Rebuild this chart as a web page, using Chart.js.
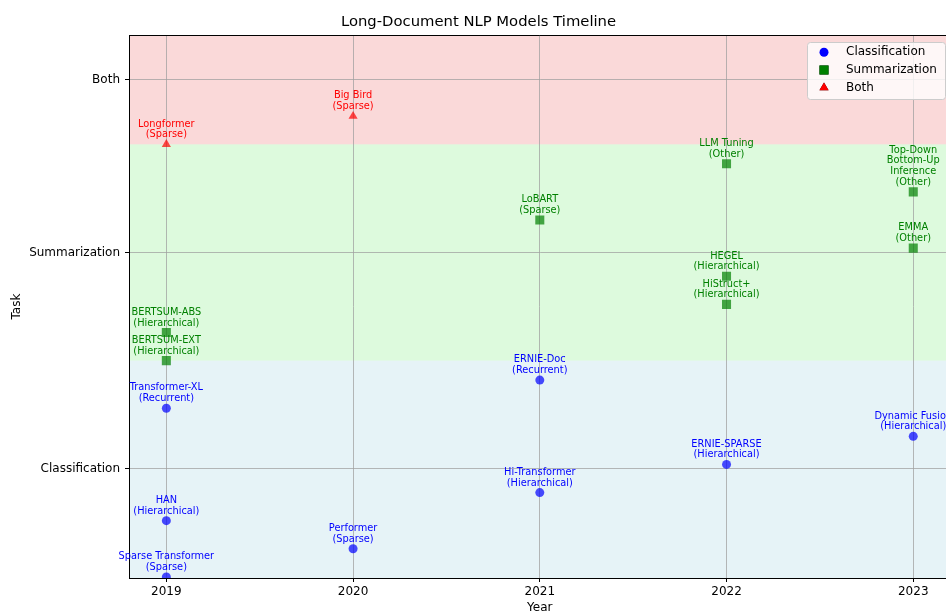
<!DOCTYPE html>
<html>
<head>
<meta charset="utf-8">
<title>Long-Document NLP Models Timeline</title>
<script src="https://cdn.jsdelivr.net/npm/chart.js@4.4.0/dist/chart.umd.min.js"></script>
<style>
  html, body { margin: 0; padding: 0; background: #fff; overflow: hidden; }
</style>
</head>
<body>
<canvas id="timeline" width="957" height="615"></canvas>
<script>
// classification models
const clsYears = [2019, 2019, 2019, 2020, 2021, 2021, 2022, 2023];
const clsPos = [-0.5, -0.24, 0.28, -0.37, -0.11, 0.41, 0.02, 0.15];
const clsModels = ['Sparse Transformer', 'HAN', 'Transformer-XL', 'Performer', 'Hi-Transformer', 'ERNIE-Doc', 'ERNIE-SPARSE', 'Dynamic Fusion'];
const clsTypes = ['Sparse', 'Hierarchical', 'Recurrent', 'Sparse', 'Hierarchical', 'Recurrent', 'Hierarchical', 'Hierarchical'];

// summarization models
const sumYears = [2019, 2019, 2022, 2022, 2023, 2021, 2023, 2022];
const sumPos = [0.5, 0.63, 0.76, 0.89, 1.02, 1.15, 1.28, 1.41];
const sumModels = ['BERTSUM-EXT', 'BERTSUM-ABS', 'HiStruct+', 'HEGEL', 'EMMA', 'LoBART', 'Top-Down\nBottom-Up\nInference', 'LLM Tuning'];
const sumTypes = ['Hierarchical', 'Hierarchical', 'Hierarchical', 'Hierarchical', 'Other', 'Sparse', 'Other', 'Other'];

// models doing both
const bothYears = [2019, 2020];
const bothPos = [1.5, 1.63];
const bothModels = ['Longformer', 'Big Bird'];
const bothTypes = ['Sparse', 'Sparse'];

const yearTicks = [2019, 2020, 2021, 2022, 2023];
const taskTicks = [0, 1, 1.8];
const taskLabels = ['Classification', 'Summarization', 'Both'];

// background bands per task
const bandEdges = [-0.5, 0.5, 1.5, 2.0];
const bandColors = ['rgba(173,216,230,0.3)', 'rgba(144,238,144,0.3)', 'rgba(240,128,128,0.3)'];

const FONT = 'DejaVu Sans';

function toPoints(xs, ys, names, types) {
    return xs.map((x, i) => ({ x: x, y: ys[i], label: names[i] + '\n(' + types[i] + ')' }));
}

const bandsPlugin = {
    id: 'bands',
    beforeDraw(chart) {
        const { ctx, chartArea, scales } = chart;
        ctx.save();
        for (let i = 0; i < bandColors.length; i++) {
            let top = scales.y.getPixelForValue(bandEdges[i + 1]);
            let bottom = scales.y.getPixelForValue(bandEdges[i]);
            if (i === 0) bottom = chartArea.bottom;
            if (i === bandColors.length - 1) top = chartArea.top;
            ctx.fillStyle = bandColors[i];
            ctx.fillRect(chartArea.left, top, chartArea.right - chartArea.left, bottom - top);
        }
        ctx.restore();
    },
    beforeDatasetsDraw(chart) {
        // top spine
        const { ctx, chartArea } = chart;
        ctx.save();
        ctx.strokeStyle = '#000';
        ctx.lineWidth = 1;
        ctx.beginPath();
        ctx.moveTo(chartArea.left, Math.round(chartArea.top) + 0.5);
        ctx.lineTo(chartArea.right, Math.round(chartArea.top) + 0.5);
        ctx.stroke();
        ctx.restore();
    }
};

const labelPlugin = {
    id: 'pointLabels',
    afterDatasetsDraw(chart) {
        const ctx = chart.ctx;
        ctx.save();
        ctx.font = '9.8px "' + FONT + '"';
        ctx.textAlign = 'center';
        ctx.textBaseline = 'middle';
        chart.data.datasets.forEach((ds, di) => {
            const meta = chart.getDatasetMeta(di);
            ctx.fillStyle = ds.textColor;
            meta.data.forEach((pt, i) => {
                const lines = ds.data[i].label.split('\n');
                lines.forEach((line, li) => {
                    const offset = 9.5 + (lines.length - 1 - li) * 10.8;
                    ctx.fillText(line, pt.x, pt.y - offset);
                });
            });
        });
        ctx.restore();
    }
};

const legendPlugin = {
    id: 'boxLegend',
    afterDraw(chart) {
        const ctx = chart.ctx;
        const x = 807.5, y = 42.5, w = 138, h = 57;
        ctx.save();
        ctx.fillStyle = 'rgba(255,255,255,0.8)';
        ctx.strokeStyle = '#cccccc';
        ctx.lineWidth = 1;
        ctx.beginPath();
        ctx.roundRect(x, y, w, h, 3);
        ctx.fill();
        ctx.stroke();
        ctx.font = '12px "' + FONT + '"';
        ctx.textAlign = 'left';
        ctx.textBaseline = 'middle';
        chart.data.datasets.forEach((ds, i) => {
            const ry = 52.3 + i * 17.7;
            Chart.helpers.drawPoint(ctx, {
                pointStyle: ds.pointStyle,
                radius: ds.legendRadius,
                borderWidth: 0
            }, 824, ry);
            ctx.fillStyle = ds.textColor;
            ctx.fill();
            ctx.fillStyle = '#000';
            ctx.fillText(ds.label, 846, ry);
        });
        ctx.restore();
    }
};

const ctx = document.getElementById('timeline').getContext('2d');
const timelineChart = new Chart(ctx, {
    type: 'scatter',
    data: {
        datasets: [
            {
                label: 'Classification',
                data: toPoints(clsYears, clsPos, clsModels, clsTypes),
                pointStyle: 'circle',
                pointRadius: 4.5,
                legendRadius: 4.5,
                backgroundColor: 'rgba(0,0,255,0.7)',
                borderWidth: 0,
                textColor: 'blue',
                clip: 0
            },
            {
                label: 'Summarization',
                data: toPoints(sumYears, sumPos, sumModels, sumTypes),
                pointStyle: 'rect',
                pointRadius: 6.4,
                legendRadius: 6.4,
                backgroundColor: 'rgba(0,128,0,0.7)',
                borderWidth: 0,
                textColor: 'green',
                clip: 0
            },
            {
                label: 'Both',
                data: toPoints(bothYears, bothPos, bothModels, bothTypes),
                pointStyle: 'triangle',
                pointRadius: 5.3,
                legendRadius: 5.3,
                backgroundColor: 'rgba(255,0,0,0.7)',
                borderWidth: 0,
                textColor: 'red',
                clip: 0
            }
        ]
    },
    options: {
        responsive: false,
        animation: false,
        devicePixelRatio: 1,
        layout: { padding: 0 },
        plugins: {
            legend: { display: false },
            tooltip: { enabled: false },
            title: {
                display: true,
                text: 'Long-Document NLP Models Timeline',
                color: '#000',
                font: { family: FONT, size: 14.8, weight: 'normal' },
                padding: { top: 12.8, bottom: 4.5 }
            }
        },
        scales: {
            x: {
                type: 'linear',
                min: 2018.8,
                max: 2023.2,
                afterBuildTicks: (scale) => { scale.ticks = yearTicks.map(v => ({ value: v })); },
                afterFit: (scale) => { scale.height = 37; },
                ticks: {
                    color: '#000',
                    padding: 3,
                    font: { family: FONT, size: 12 },
                    callback: (v) => String(v)
                },
                grid: {
                    color: 'rgba(160,160,160,0.75)',
                    lineWidth: 1,
                    tickColor: '#000',
                    tickLength: 4
                },
                border: { color: '#000', width: 1 },
                title: {
                    display: true,
                    text: 'Year',
                    color: '#000',
                    font: { family: FONT, size: 12 },
                    padding: { top: 0, bottom: 0 }
                }
            },
            y: {
                type: 'linear',
                min: -0.505,
                max: 2.005,
                afterBuildTicks: (scale) => { scale.ticks = taskTicks.map(v => ({ value: v })); },
                afterFit: (scale) => { scale.width = 129; },
                ticks: {
                    color: '#000',
                    padding: 5,
                    font: { family: FONT, size: 12 },
                    callback: (v) => taskLabels[taskTicks.indexOf(v)]
                },
                grid: {
                    color: 'rgba(160,160,160,0.75)',
                    lineWidth: 1,
                    tickColor: '#000',
                    tickLength: 4
                },
                border: { color: '#000', width: 1 },
                title: {
                    display: true,
                    text: 'Task',
                    color: '#000',
                    font: { family: FONT, size: 12 },
                    padding: { top: 10, bottom: 0 }
                }
            }
        }
    },
    plugins: [bandsPlugin, labelPlugin, legendPlugin]
});
</script>
</body>
</html>
